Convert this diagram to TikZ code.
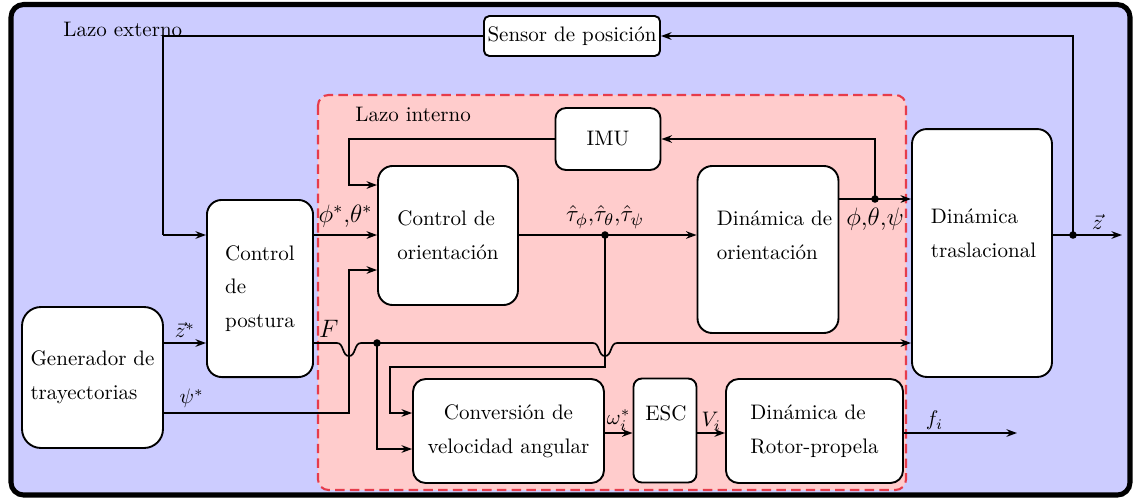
\documentclass[tikz,border=0pt]{standalone}
\usetikzlibrary{arrows.meta}
\definecolor{fondoext}{RGB}{204,204,255}
\definecolor{fondoint}{RGB}{255,204,204}
\definecolor{bordeint}{RGB}{230,60,75}
\tikzset{
    blk/.style={draw, fill=white, line width=0.9pt, rounded corners=7pt, inner sep=0pt,
        align=left, font=\linespread{1.333}\selectfont},
    txt/.style={inner sep=0pt, align=left, font=\linespread{1.333}\selectfont},
    sig/.style={line width=0.8pt},
    bold/.style={line width=1.3pt},
    lbl/.style={inner sep=2pt}
}
\begin{document}
\begin{tikzpicture}[x=0.476pt, y=-0.476pt, >={Stealth[length=5pt,width=3.6pt]}]
        \useasboundingbox (0,0) rectangle (1134,499);
        %% Fondos
        \draw[line width=2.4pt, rounded corners=6pt, fill=fondoext] (11,4.5) rectangle (1130,495);
        \draw[line width=1pt, bordeint, dash pattern=on 4.5pt off 2.5pt, rounded corners=5pt,
            fill=fondoint] (318,95) rectangle (906,490);
        \node[anchor=west, inner sep=0pt] (lext) at (63,29) {Lazo externo};
        \node[anchor=west, inner sep=0pt] (lint) at (355,114) {Lazo interno};
        %% Bloques
        \node[blk, rounded corners=2.5pt, minimum width=83.8pt, minimum height=19pt] (sensor) at (572,36) {Sensor de posición};
        \node[blk, rounded corners=5pt, minimum width=50pt, minimum height=29.5pt] (imu) at (608,139) {IMU};
        \node[blk, minimum width=66.6pt, minimum height=66.2pt] (ctrlori) at (448,235.5) {Control de\\orientación};
        \node[blk, minimum width=67.1pt, minimum height=79.5pt] (dinori) at (768,249.5) {};
        \node[txt] (dinoritxt) at (774.5,235) {Dinámica de\\orientación};
        \node[blk, minimum width=66.6pt, minimum height=118pt] (dintras) at (982,253) {};
        \node[txt] (dintrastxt) at (983.5,233) {Dinámica\\traslacional};
        \node[blk, minimum width=50.5pt, minimum height=84.3pt] (postura) at (260,288.5) {Control\\de\\postura};
        \node[blk, rounded corners=9pt, minimum width=67.1pt, minimum height=67.1pt] (gen) at (92.5,377.5) {Generador de\\trayectorias};
        \node[blk, align=center, rounded corners=6pt, minimum width=90.9pt, minimum height=49.5pt] (conv) at (508.5,431) {Conversión de\\velocidad angular};
        \node[blk, rounded corners=4pt, minimum width=30pt, minimum height=49.5pt] (esc) at (665,430.5) {};
        \node[txt] (esctxt) at (666,413) {ESC};
        \node[blk, rounded corners=6pt, minimum width=84.3pt, minimum height=49.5pt] (rotor) at (814.5,431) {Dinámica de\\Rotor-propela};
        %% Puntos de paso
        \coordinate (ext) at (163,235);
        \coordinate (tj) at (605,235);
        \coordinate (zj) at (1073,235);
        \coordinate (zout) at (1122,235);
        \coordinate (phij) at (875,199);
        \coordinate (fb) at (349,185);
        \coordinate (psi) at (349,413);
        \coordinate (psiin) at (349,270);
        \coordinate (zs) at (163,343);
        \coordinate (fj) at (377,343);
        \coordinate (lp) at (390,367);
        \coordinate (c1) at (390,413);
        \coordinate (c2) at (377,449);
        \coordinate (fy) at (0,433);
        \coordinate (fout) at (1017,433);
        %% Lazo externo
        \draw[bold,->] (dintras.east |- zj) -- (zj) -- node[lbl,above] {$\vec{z}$} (zout);
        \draw[sig,->] (zj) |- (sensor.east);
        \draw[sig] (sensor.west) -| (ext);
        \draw[bold,->] (ext) -- (postura.west |- ext);
        \draw[sig,->] (gen.east |- zs) -- node[lbl,above] {$\vec{z}^*$} (postura.west |- zs);
        \draw[sig,->] (gen.east |- psi) -- node[lbl,above,pos=0.15] {$\psi^*$} (psi) |- (ctrlori.west |- psiin);
        \draw[bold,->] (postura.east |- ext) -- node[lbl,above=1pt,font=\large] {$\phi^*$,$\theta^*$} (ctrlori.west |- ext);
        %% Lazo interno
        \draw[bold,->] (ctrlori.east |- tj) -- (dinori.west |- tj);
        \node[lbl,above=1pt,font=\fontsize{11}{13}\selectfont] (tau) at (tj) {$\hat{\tau}_\phi{,}\hat{\tau}_\theta{,}\hat{\tau}_\psi$};
        \draw[sig,->] (dinori.east |- phij) -- (dintras.west |- phij);
        \node[lbl,below=2pt,font=\large] (ang) at (phij) {$\phi$,$\theta$,$\psi$};
        \draw[sig,->] (phij) |- (imu.east);
        \draw[sig,->] (imu.west) -| (fb) -- (ctrlori.west |- fb);
        \draw[sig,->] (tj) |- (lp) |- (conv.west |- c1);
        %% F con saltos
        \draw[sig,->] (postura.east |- fj) node[lbl,above right,font=\large] {$F$}
            -- (337,343) .. controls (344,343) and (342,356) .. (349,356)
            .. controls (356,356) and (354,343) .. (361,343)
            -- (593,343) .. controls (600,343) and (598,356) .. (605,356)
            .. controls (612,356) and (610,343) .. (617,343)
            -- (dintras.west |- fj);
        \draw[bold,->] (fj) |- (conv.west |- c2);
        %% Motores
        \draw[sig,->] (conv.east |- fy) -- node[lbl,above,inner sep=1pt] {$\omega_i^*$} (esc.west |- fy);
        \draw[sig,->] (esc.east |- fy) -- node[lbl,above,inner sep=1pt] {$V_i$} (rotor.west |- fy);
        \draw[sig,->] (rotor.east |- fy) -- node[lbl,above,pos=0.27,inner sep=1pt] {$f_i$} (fout);
        %% Uniones
        \foreach \p in {tj,zj,phij,fj}
            \fill (\p) circle (1.8pt);
\end{tikzpicture}
\end{document}
